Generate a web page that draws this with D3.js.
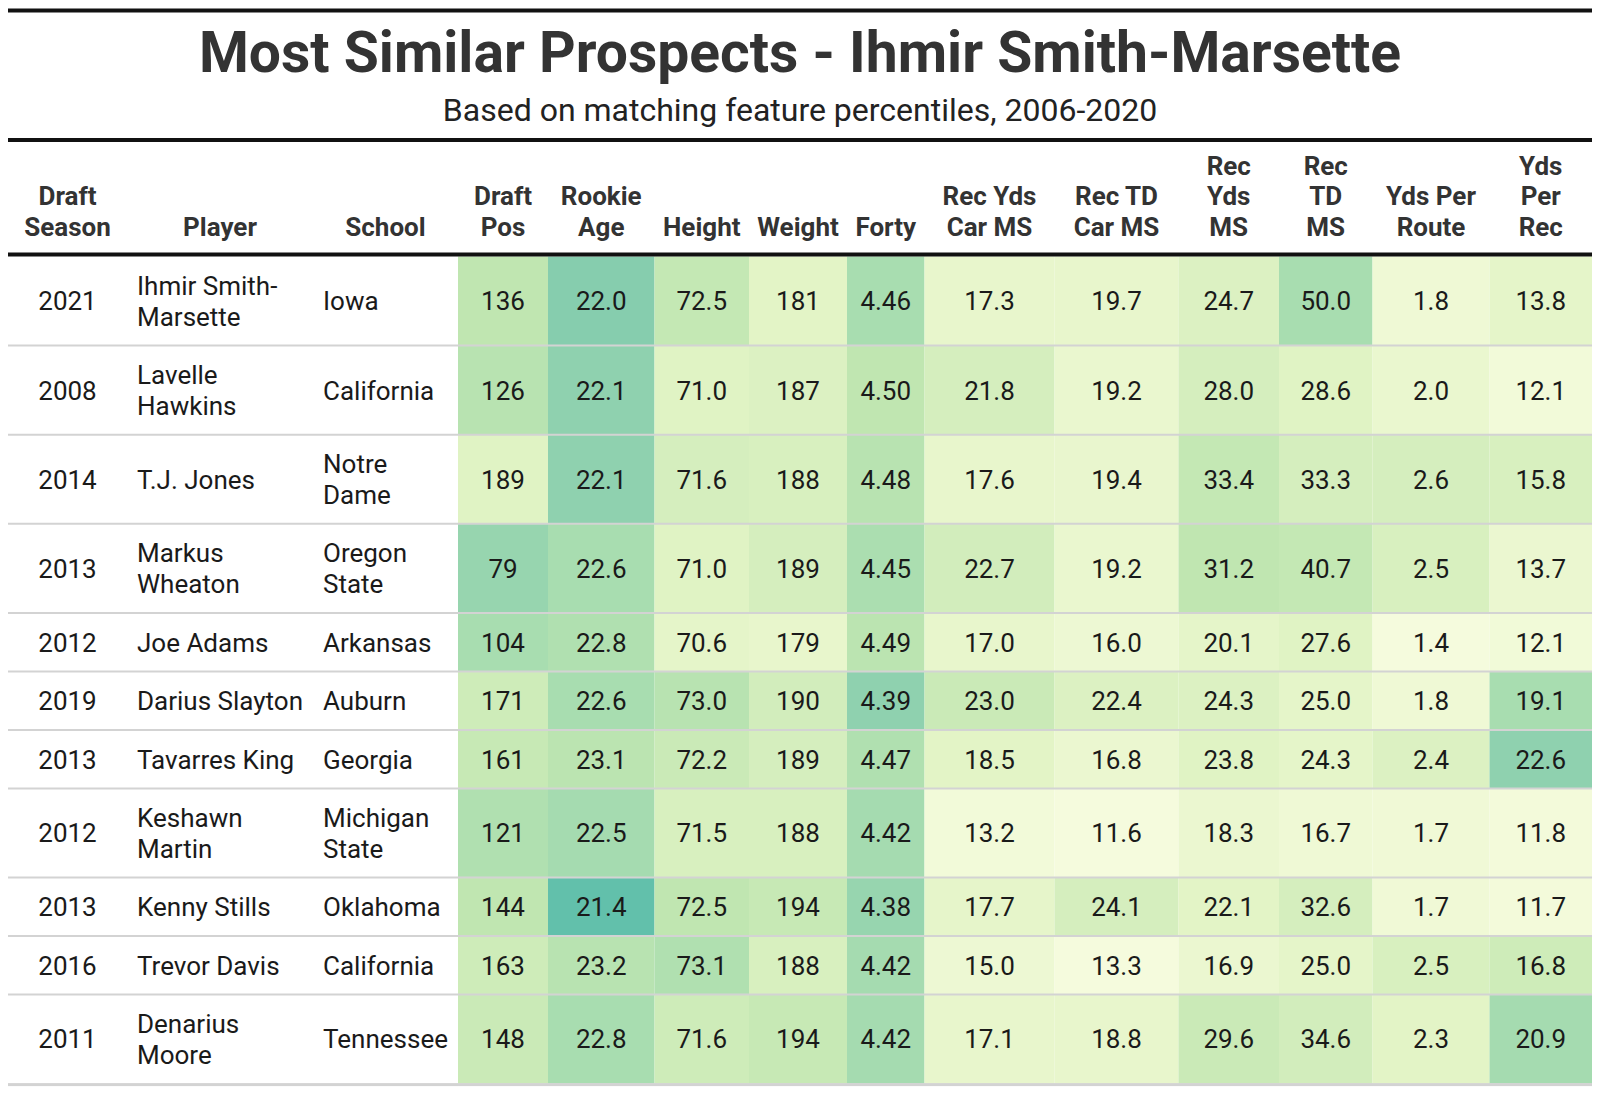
<!DOCTYPE html>
<html>
<head>
<meta charset="utf-8">
<script src="https://cdn.jsdelivr.net/npm/d3@7/dist/d3.min.js"></script>
<style>
  html, body { margin: 0; padding: 0; background: #fff; }
  svg { display: block; font-family: Roboto, "Noto Sans", sans-serif; }
</style>
</head>
<body>
<svg id="chart" width="1600" height="1095"></svg>
<script>
// data
const title = 'Most Similar Prospects - Ihmir Smith-Marsette';
const subtitle = 'Based on matching feature percentiles, 2006-2020';

const headers = [
  ['Draft', 'Season'], ['Player'], ['School'], ['Draft', 'Pos'], ['Rookie', 'Age'],
  ['Height'], ['Weight'], ['Forty'], ['Rec Yds', 'Car MS'], ['Rec TD', 'Car MS'],
  ['Rec', 'Yds', 'MS'], ['Rec', 'TD', 'MS'], ['Yds Per', 'Route'], ['Yds', 'Per', 'Rec']
];

const seasons = [2021, 2008, 2014, 2013, 2012, 2019, 2013, 2012, 2013, 2016, 2011];
const players = ['Ihmir Smith-Marsette', 'Lavelle Hawkins', 'T.J. Jones', 'Markus Wheaton', 'Joe Adams',
  'Darius Slayton', 'Tavarres King', 'Keshawn Martin', 'Kenny Stills', 'Trevor Davis', 'Denarius Moore'];
const schools = ['Iowa', 'California', 'Notre Dame', 'Oregon State', 'Arkansas', 'Auburn', 'Georgia',
  'Michigan State', 'Oklahoma', 'California', 'Tennessee'];

const draftPos = [136, 126, 189, 79, 104, 171, 161, 121, 144, 163, 148];
const rookieAge = [22.0, 22.1, 22.1, 22.6, 22.8, 22.6, 23.1, 22.5, 21.4, 23.2, 22.8];
const height = [72.5, 71.0, 71.6, 71.0, 70.6, 73.0, 72.2, 71.5, 72.5, 73.1, 71.6];
const weight = [181, 187, 188, 189, 179, 190, 189, 188, 194, 188, 194];
const forty = [4.46, 4.50, 4.48, 4.45, 4.49, 4.39, 4.47, 4.42, 4.38, 4.42, 4.42];
const recYdsCarMS = [17.3, 21.8, 17.6, 22.7, 17.0, 23.0, 18.5, 13.2, 17.7, 15.0, 17.1];
const recTdCarMS = [19.7, 19.2, 19.4, 19.2, 16.0, 22.4, 16.8, 11.6, 24.1, 13.3, 18.8];
const recYdsMS = [24.7, 28.0, 33.4, 31.2, 20.1, 24.3, 23.8, 18.3, 22.1, 16.9, 29.6];
const recTdMS = [50.0, 28.6, 33.3, 40.7, 27.6, 25.0, 24.3, 16.7, 32.6, 25.0, 34.6];
const ydsPerRoute = [1.8, 2.0, 2.6, 2.5, 1.4, 1.8, 2.4, 1.7, 1.7, 2.5, 2.3];
const ydsPerRec = [13.8, 12.1, 15.8, 13.7, 12.1, 19.1, 22.6, 11.8, 11.7, 16.8, 20.9];

// feature percentile shading, one row per prospect
const shade = [
  [0.45, 0.80, 0.42, 0.20, 0.60, 0.15, 0.15, 0.25, 0.60, 0.08, 0.18],
  [0.50, 0.75, 0.22, 0.25, 0.45, 0.30, 0.13, 0.30, 0.22, 0.13, 0.05],
  [0.22, 0.75, 0.30, 0.28, 0.50, 0.15, 0.14, 0.42, 0.30, 0.30, 0.28],
  [0.70, 0.60, 0.22, 0.30, 0.58, 0.32, 0.13, 0.45, 0.42, 0.28, 0.12],
  [0.60, 0.55, 0.18, 0.15, 0.48, 0.15, 0.10, 0.18, 0.22, 0.02, 0.06],
  [0.35, 0.60, 0.50, 0.32, 0.75, 0.38, 0.25, 0.25, 0.18, 0.08, 0.60],
  [0.40, 0.48, 0.38, 0.30, 0.55, 0.20, 0.12, 0.22, 0.18, 0.25, 0.75],
  [0.55, 0.62, 0.28, 0.28, 0.62, 0.05, 0.02, 0.12, 0.08, 0.07, 0.04],
  [0.45, 1.00, 0.45, 0.40, 0.70, 0.17, 0.30, 0.20, 0.30, 0.07, 0.04],
  [0.35, 0.50, 0.55, 0.28, 0.62, 0.10, 0.02, 0.12, 0.18, 0.28, 0.35],
  [0.38, 0.60, 0.35, 0.40, 0.62, 0.15, 0.15, 0.38, 0.32, 0.20, 0.62]
];

const statCols = [
  { values: draftPos, fmt: d3.format('d') },
  { values: rookieAge, fmt: d3.format('.1f') },
  { values: height, fmt: d3.format('.1f') },
  { values: weight, fmt: d3.format('d') },
  { values: forty, fmt: d3.format('.2f') },
  { values: recYdsCarMS, fmt: d3.format('.1f') },
  { values: recTdCarMS, fmt: d3.format('.1f') },
  { values: recYdsMS, fmt: d3.format('.1f') },
  { values: recTdMS, fmt: d3.format('.1f') },
  { values: ydsPerRoute, fmt: d3.format('.1f') },
  { values: ydsPerRec, fmt: d3.format('.1f') }
];

// layout
const colEdges = [8, 127, 313, 458, 548, 654.5, 749, 847, 924.5, 1054.5, 1178.5, 1279, 1372.5, 1489.5, 1592];
const left = colEdges[0], right = colEdges[colEdges.length - 1];
const pad = 10;
const lineH = 30.6;
const bodyTop = 256.5;
const fontSize = 26;

const color = d3.scaleLinear()
  .domain([0, 0.2, 0.45, 0.6, 0.8, 1])
  .range(['#f7fcdf', '#e3f4c6', '#c0e6b1', '#a8ddb0', '#86cdae', '#62c0ab'])
  .interpolate(d3.interpolateRgb)
  .clamp(true);

const svg = d3.select('#chart');

// measure text for wrapping
const measure = svg.append('text')
  .attr('font-size', fontSize)
  .attr('visibility', 'hidden');

function textWidth(s) {
  measure.text(s);
  return measure.node().getComputedTextLength();
}

function wrap(str, maxW) {
  const tokens = str.split(/(?<=\s)|(?<=-)/);
  const lines = [];
  let cur = '';
  tokens.forEach(t => {
    const next = cur + t;
    if (cur && textWidth(next.trim()) > maxW) {
      lines.push(cur.trim());
      cur = t;
    } else {
      cur = next;
    }
  });
  if (cur) lines.push(cur.trim());
  return lines;
}

const rows = seasons.map((season, i) => {
  const playerLines = wrap(players[i], colEdges[2] - colEdges[1] - 16);
  const schoolLines = wrap(schools[i], colEdges[3] - colEdges[2] - 16);
  const n = Math.max(playerLines.length, schoolLines.length);
  return { season, playerLines, schoolLines, n, h: 27.9 + n * lineH, i };
});
let acc = bodyTop;
rows.forEach(r => { r.y = acc; acc += r.h; });
const bodyBottom = acc;
measure.remove();

// title
svg.append('text')
  .attr('x', 800).attr('y', 72)
  .attr('text-anchor', 'middle')
  .attr('font-size', 57).attr('font-weight', 700)
  .attr('fill', '#333')
  .text(title);

svg.append('text')
  .attr('x', 800).attr('y', 121)
  .attr('text-anchor', 'middle')
  .attr('font-size', 32)
  .attr('fill', '#222')
  .text(subtitle);

// rules
svg.append('rect').attr('x', left).attr('y', 8.5).attr('width', right - left).attr('height', 4).attr('fill', '#111');
svg.append('rect').attr('x', left).attr('y', 138).attr('width', right - left).attr('height', 4).attr('fill', '#111');

// header
const header = svg.append('g').attr('class', 'header');
headers.forEach((lines, c) => {
  const cx = (colEdges[c] + colEdges[c + 1]) / 2;
  const t = header.append('text')
    .attr('text-anchor', 'middle')
    .attr('font-size', 26).attr('font-weight', 700)
    .attr('fill', '#333');
  lines.forEach((ln, k) => {
    t.append('tspan')
      .attr('x', cx)
      .attr('y', 226.5 - (lines.length - 1 - k) * lineH)
      .attr('dy', '0.36em')
      .text(ln);
  });
});

// body
const body = svg.append('g').attr('class', 'body');
const rowG = body.selectAll('g.row').data(rows).join('g').attr('class', 'row')
  .attr('transform', d => `translate(0,${d.y})`);

// cells
rowG.each(function (r) {
  const g = d3.select(this);
  g.selectAll('rect.cell')
    .data(statCols.map((col, c) => ({ c, v: col.values[r.i], fmt: col.fmt, s: shade[r.i][c] })))
    .join('rect').attr('class', 'cell')
    .attr('x', d => colEdges[d.c + 3])
    .attr('y', 0)
    .attr('width', d => colEdges[d.c + 4] - colEdges[d.c + 3])
    .attr('height', r.h)
    .attr('fill', d => color(d.s));

  g.selectAll('text.val')
    .data(statCols.map((col, c) => ({ c, v: col.values[r.i], fmt: col.fmt })))
    .join('text').attr('class', 'val')
    .attr('x', d => (colEdges[d.c + 3] + colEdges[d.c + 4]) / 2)
    .attr('y', r.h / 2)
    .attr('dy', '0.36em')
    .attr('text-anchor', 'middle')
    .attr('font-size', fontSize)
    .attr('fill', '#1a1a1a')
    .text(d => d.fmt(d.v));

  g.append('text')
    .attr('x', (colEdges[0] + colEdges[1]) / 2)
    .attr('y', r.h / 2).attr('dy', '0.36em')
    .attr('text-anchor', 'middle')
    .attr('font-size', fontSize).attr('fill', '#1a1a1a')
    .text(r.season);

  [[r.playerLines, colEdges[1]], [r.schoolLines, colEdges[2]]].forEach(([lines, x0]) => {
    const t = g.append('text')
      .attr('font-size', fontSize).attr('fill', '#1a1a1a');
    lines.forEach((ln, k) => {
      t.append('tspan')
        .attr('x', x0 + pad)
        .attr('y', r.h / 2 + (k - (lines.length - 1) / 2) * lineH)
        .attr('dy', '0.36em')
        .text(ln);
    });
  });
});

// row separators
body.selectAll('line.sep')
  .data(rows.slice(1))
  .join('line').attr('class', 'sep')
  .attr('x1', left).attr('x2', right)
  .attr('y1', d => d.y).attr('y2', d => d.y)
  .attr('stroke', '#d3d3d3').attr('stroke-width', 2);

svg.append('rect').attr('x', left).attr('y', 252.5).attr('width', right - left).attr('height', 4).attr('fill', '#111');
svg.append('rect').attr('x', left).attr('y', bodyBottom - 0.5).attr('width', right - left).attr('height', 3).attr('fill', '#d3d3d3');
</script>
</body>
</html>
